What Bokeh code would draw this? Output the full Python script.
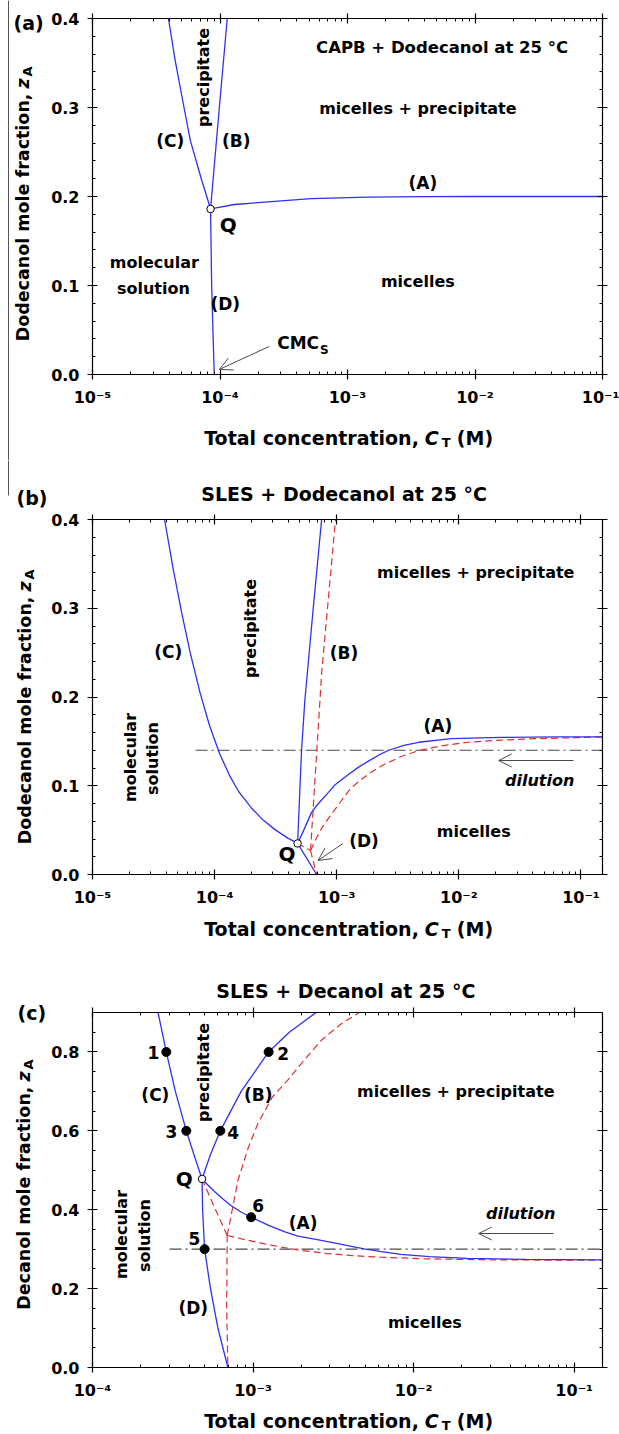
import math
from bokeh.plotting import figure
from bokeh.models import (LogAxis, LinearAxis, Label, Arrow, OpenHead,
                          SingleIntervalTicker, FixedTicker, CustomJSTickFormatter)
from bokeh.layouts import column, row
from bokeh.embed import file_html
from bokeh.resources import INLINE

# ------------------------------------------------------------------ data
# (a) CAPB + Dodecanol
a_Q_x = [8.43e-5]
a_Q_y = [0.186]
a_C_x = [3.94e-5, 4.45e-5, 5.22e-5, 5.85e-5, 7.13e-5, 7.87e-5, 8.43e-5]
a_C_y = [0.400, 0.353, 0.300, 0.263, 0.220, 0.200, 0.186]
a_B_x = [8.43e-5, 9.88e-5, 1.14e-4]
a_B_y = [0.186, 0.300, 0.400]
a_D_x = [8.43e-5, 8.60e-5, 9.01e-5]
a_D_y = [0.186, 0.100, 0.000]
a_A_x = [8.43e-5, 9.1e-5, 1.30e-4, 2.37e-4, 5.2e-4, 1.44e-3, 4.0e-3, 1.0e-2, 1.0e-1]
a_A_y = [0.186, 0.187, 0.191, 0.194, 0.1975, 0.1992, 0.1998, 0.200, 0.200]

# (b) SLES + Dodecanol
b_Q_x = [4.78e-4]
b_Q_y = [0.035]
b_C_x = [3.89e-5, 4.57e-5, 5.37e-5, 6.31e-5, 7.59e-5, 9.12e-5, 1.10e-4, 1.32e-4,
         1.58e-4, 2.00e-4, 2.51e-4, 3.16e-4, 3.98e-4, 4.78e-4]
b_C_y = [0.400, 0.345, 0.295, 0.250, 0.205, 0.167, 0.136, 0.112,
         0.093, 0.075, 0.061, 0.050, 0.041, 0.035]
b_B_x = [4.78e-4, 5.15e-4, 5.48e-4, 6.42e-4, 7.52e-4]
b_B_y = [0.035, 0.14, 0.196, 0.30, 0.40]
b_D_x = [4.78e-4, 6.84e-4]
b_D_y = [0.035, 0.0]
b_A_x = [4.78e-4, 5.37e-4, 6.22e-4, 7.08e-4, 8.24e-4, 9.59e-4, 1.20e-3, 1.51e-3, 1.83e-3,
         2.24e-3, 2.67e-3, 3.55e-3, 4.68e-3, 8.71e-3, 2.24e-2, 6.31e-2, 0.15]
b_A_y = [0.035, 0.050, 0.070, 0.080, 0.090, 0.1005, 0.111, 0.121, 0.128,
         0.135, 0.140, 0.1455, 0.149, 0.153, 0.1545, 0.155, 0.155]
b_rQ_x = [4.78e-4, 6.1e-4]
b_rQ_y = [0.035, 0.027]
b_rD_x = [6.1e-4, 6.84e-4]
b_rD_y = [0.027, 0.0]
b_rB_x = [6.1e-4, 7.52e-4, 9.77e-4]
b_rB_y = [0.027, 0.2265, 0.40]
b_rA_x = [6.10e-4, 6.76e-4, 7.52e-4, 8.71e-4, 1.0e-3, 1.15e-3, 1.30e-3, 1.58e-3, 2.0e-3,
          2.48e-3, 3.39e-3, 4.65e-3, 7.08e-3, 1.19e-2, 2.24e-2, 4.2e-2, 7.94e-2, 0.15]
b_rA_y = [0.027, 0.040, 0.052, 0.065, 0.076, 0.0875, 0.097, 0.107, 0.117,
          0.1245, 0.133, 0.1395, 0.1448, 0.149, 0.1515, 0.153, 0.154, 0.155]
b_dil_x = [6.98e-5, 0.15]
b_dil_y = [0.14, 0.14]

# (c) SLES + Decanol
c_Q_x = [4.81e-4]
c_Q_y = [0.478]
c_C_x = [2.56e-4, 2.88e-4, 3.28e-4, 3.84e-4, 4.28e-4, 4.81e-4]
c_C_y = [0.9, 0.8, 0.7, 0.6, 0.54, 0.478]
c_B_x = [4.81e-4, 5.43e-4, 6.25e-4, 8.43e-4, 1.25e-3, 1.68e-3, 2.47e-3]
c_B_y = [0.478, 0.54, 0.6, 0.7, 0.8, 0.85, 0.9]
c_D_x = [4.81e-4, 4.85e-4, 4.99e-4, 5.43e-4, 6.04e-4, 6.97e-4]
c_D_y = [0.478, 0.4, 0.3, 0.2, 0.1, 0.0]
c_A_x = [4.81e-4, 5.25e-4, 5.75e-4, 6.46e-4, 7.31e-4, 8.51e-4, 9.73e-4, 1.26e-3, 1.58e-3,
         1.90e-3, 2.51e-3, 3.55e-3, 4.92e-3, 6.31e-3, 8.32e-3, 1.26e-2, 2.16e-2, 5.01e-2, 0.15]
c_A_y = [0.478, 0.462, 0.446, 0.428, 0.41, 0.393, 0.381, 0.3597, 0.3437,
         0.333, 0.324, 0.312, 0.301, 0.294, 0.287, 0.281, 0.2765, 0.274, 0.273]
c_rQ_x = [4.81e-4, 5.75e-4, 6.9e-4]
c_rQ_y = [0.478, 0.406, 0.3347]
c_rD_x = [6.9e-4, 6.85e-4, 6.97e-4]
c_rD_y = [0.3347, 0.15, 0.0]
c_rB_x = [6.9e-4, 8.05e-4, 9.33e-4, 1.07e-3, 1.32e-3, 1.64e-3, 1.99e-3, 2.65e-3, 3.53e-3, 4.59e-3]
c_rB_y = [0.3347, 0.474, 0.557, 0.618, 0.686, 0.728, 0.77, 0.829, 0.871, 0.9]
c_rA_x = [6.9e-4, 8.91e-4, 1.18e-3, 1.51e-3, 1.90e-3, 2.82e-3, 4.17e-3, 6.25e-3, 1.2e-2, 3.48e-2, 0.15]
c_rA_y = [0.3347, 0.324, 0.3136, 0.305, 0.298, 0.2895, 0.2835, 0.2795, 0.2755, 0.2727, 0.272]
c_dil_x = [3.02e-4, 0.15]
c_dil_y = [0.30, 0.30]
c_pts_x = [2.88e-4, 1.25e-3, 3.84e-4, 6.25e-4, 4.99e-4, 9.73e-4]
c_pts_y = [0.8, 0.8, 0.6, 0.6, 0.3, 0.381]
c_pts_lab = ["1", "2", "3", "4", "5", "6"]

# ------------------------------------------------------------------ style
FONT = "DejaVu Sans"
BLUE = "#3030f4"
RED = "#e2302f"
GREY = "#4a4a4a"

SUP_JS = """
const m = {"-": "\u207b", "0": "\u2070", "1": "\u00b9", "2": "\u00b2", "3": "\u00b3",
           "4": "\u2074", "5": "\u2075", "6": "\u2076", "7": "\u2077", "8": "\u2078", "9": "\u2079"};
const e = Math.round(Math.log10(tick));
return "10" + String(e).split("").map(c => m[c]).join("");
"""

FRAME_X0, FRAME_X1 = 91.0, 602.0   # page x of the plotting frames
LEFT_W = 48                         # width of the left text column
MAIN_W = 619 - LEFT_W


def make_label(x, y, s, fs, align, angle, italic):
    return Label(x=x, y=y, text=s, text_font=FONT, text_font_size=f"{fs}px",
                 text_font_style="bold italic" if italic else "bold",
                 text_align=align, text_baseline="middle", angle=angle,
                 text_color="black")


class TextArea:
    """A blank figure used only to hold texts outside the plotting frames.
    If 'aligned', its frame shares the horizontal extent of the plot frames."""
    def __init__(self, ox, oy, w, h, aligned=False):
        self.ox, self.oy, self.w, self.h = ox, oy, w, h
        self.aligned = aligned
        if aligned:
            xr = (FRAME_X0, FRAME_X1)
            bl, br = int(FRAME_X0 - ox), int(ox + w - FRAME_X1)
        else:
            xr = (0, w)
            bl, br = 0, 0
        f = figure(width=w, height=h, x_range=xr, y_range=(0, h),
                   min_border_left=bl, min_border_right=br,
                   min_border_top=0, min_border_bottom=0,
                   toolbar_location=None, x_axis_location=None, y_axis_location=None,
                   output_backend="svg")
        f.grid.visible = False
        f.outline_line_color = None
        f.background_fill_color = "white"
        f.border_fill_color = "white"
        self.f = f

    def _x(self, px):
        return px if self.aligned else px - self.ox

    def text(self, px, py, s, fs, align="center", angle=0.0, italic=False):
        self.f.add_layout(make_label(self._x(px), self.h - (py - self.oy), s, fs,
                                     align, angle, italic))

    def vline(self, px, py0, py1):
        self.f.line([self._x(px), self._x(px)],
                    [self.h - (py0 - self.oy), self.h - (py1 - self.oy)],
                    line_color="#555555", line_width=1)


class Panel:
    def __init__(self, page_top, top, frame_h, xr, yr, ytick, yminor):
        bottom = 36
        self.p = figure(width=MAIN_W, height=top + frame_h + bottom, x_axis_type="log",
                        x_range=xr, y_range=yr, output_backend="svg",
                        toolbar_location=None, min_border_left=int(FRAME_X0 - LEFT_W),
                        min_border_right=int(619 - FRAME_X1), min_border_top=top,
                        min_border_bottom=bottom)
        p = self.p
        p.grid.visible = False
        p.outline_line_color = None
        p.background_fill_color = "white"
        p.border_fill_color = "white"
        self.fx0, self.fx1 = FRAME_X0, FRAME_X1
        self.ft = page_top + top
        self.fb = self.ft + frame_h
        self.xlo, self.xhi = xr
        self.ylo, self.yhi = yr
        lo = math.floor(math.log10(self.xlo))
        xt = FixedTicker(ticks=[10.0 ** e for e in range(lo, 0)],
                         minor_ticks=[m * 10.0 ** e for e in range(lo, 0) for m in range(2, 10)])
        yt = SingleIntervalTicker(interval=ytick, num_minor_ticks=yminor)
        bottom_axis = p.below[0]
        left_axis = p.left[0]
        bottom_axis.ticker = xt
        left_axis.ticker = yt
        p.add_layout(LogAxis(ticker=xt), "above")
        p.add_layout(LinearAxis(ticker=yt), "right")
        for ax in p.axis:
            ax.formatter = CustomJSTickFormatter(code="return ''")
            ax.major_label_text_font_size = "0px"
            ax.major_label_standoff = 0
            ax.axis_label = None
            ax.axis_line_color = "black"
            ax.axis_line_width = 1.2
            ax.major_tick_line_color = "black"
            ax.major_tick_line_width = 1.2
            ax.minor_tick_line_color = "black"
            ax.minor_tick_line_width = 1.0
            ax.major_tick_in = 5
            ax.major_tick_out = 5
            ax.minor_tick_in = 3
            ax.minor_tick_out = 0
        for ax, code, standoff in ((left_axis, "return tick.toFixed(1)", 8),
                                   (bottom_axis, SUP_JS, 8)):
            ax.formatter = CustomJSTickFormatter(code=code)
            ax.major_label_text_font = FONT
            ax.major_label_text_font_size = "16px"
            ax.major_label_text_font_style = "bold"
            ax.major_label_text_color = "black"
            ax.major_label_standoff = standoff

    def X(self, px):
        l0, l1 = math.log10(self.xlo), math.log10(self.xhi)
        return 10 ** (l0 + (px - self.fx0) / (self.fx1 - self.fx0) * (l1 - l0))

    def Y(self, py):
        return self.ylo + (self.fb - py) / (self.fb - self.ft) * (self.yhi - self.ylo)

    def text(self, px, py, s, fs, align="center", angle=0.0, italic=False):
        self.p.add_layout(make_label(self.X(px), self.Y(py), s, fs, align, angle, italic))

    def arrow(self, tail, tip):
        self.p.add_layout(Arrow(end=OpenHead(size=13, line_color=GREY, line_width=1),
                                x_start=self.X(tail[0]), y_start=self.Y(tail[1]),
                                x_end=self.X(tip[0]), y_end=self.Y(tip[1]),
                                line_color=GREY, line_width=1))


def xtitle(area, py, fs=19):
    # main part ends at the comma; the symbol and unit follow it
    area.text(418, py, "Total concentration,", fs, align="right")
    area.text(424, py, "C", fs, align="left", italic=True)
    area.text(441, py + 5, "T", 13, align="left")
    area.text(456, py, "(M)", fs, align="left")


def ytitle(area, px, anchor, main, fs=17.5):
    # rotated text reading upwards; "anchor" is where the symbol z begins
    area.text(px, anchor + 5, main, fs, align="right", angle=math.pi / 2)
    area.text(px, anchor, "z", fs, align="left", angle=math.pi / 2, italic=True)
    area.text(px + 5, anchor - 12, "A", 13, align="left", angle=math.pi / 2)


def blue(p, x, y):
    p.line(x, y, line_color=BLUE, line_width=1.3)


def red(p, x, y):
    p.line(x, y, line_color=RED, line_width=1.2, line_dash="7 4")


def dashdot(p, x, y):
    p.line(x, y, line_color=GREY, line_width=1.2, line_dash="12 4 2 4")


def qpoint(p, x, y):
    p.scatter(x, y, size=7.5, fill_color="white", line_color="black", line_width=1)


ROT = math.pi / 2

# ------------------------------------------------------------------ panel (a)  page y 0..460
A = Panel(0, 18, 356, (1e-5, 0.1), (0.0, 0.4), 0.1, 5)          # main: 0..410
pa = A.p
blue(pa, a_C_x, a_C_y)
blue(pa, a_B_x, a_B_y)
blue(pa, a_D_x, a_D_y)
blue(pa, a_A_x, a_A_y)
qpoint(pa, a_Q_x, a_Q_y)
A.text(315, 47, "CAPB + Dodecanol at 25 \u00b0C", 16.5, align="left")
A.text(417, 108, "micelles + precipitate", 16)
A.text(422, 182, "(A)", 17)
A.text(417, 281, "micelles", 16)
A.text(153, 262, "molecular", 16)
A.text(152, 288, "solution", 16)
A.text(202, 77, "precipitate", 16, angle=ROT)
A.text(169, 140, "(C)", 17)
A.text(235, 140, "(B)", 17)
A.text(227, 224, "Q", 20)
A.text(224, 303, "(D)", 17)
A.text(318, 342, "CMC", 17, align="right")
A.text(319, 349, "S", 12, align="left")
A.arrow((268, 346), (218, 369))

La = TextArea(0, 0, LEFT_W, 460)
La.text(13, 22, "(a)", 19, align="left")
ytitle(La, 22, 88, "Dodecanol mole fraction,")
La.vline(8, 0, 460)
Ba = TextArea(LEFT_W, 410, MAIN_W, 50, aligned=True)
xtitle(Ba, 437)

# ------------------------------------------------------------------ panel (b)  page y 460..954
Tb = TextArea(LEFT_W, 460, MAIN_W, 49, aligned=True)
Tb.text(200, 493, "SLES + Dodecanol at 25 \u00b0C", 19, align="left")
B = Panel(509, 10, 355, (1e-5, 0.15), (0.0, 0.4), 0.1, 5)       # main: 509..910
pb = B.p
dashdot(pb, b_dil_x, b_dil_y)
red(pb, b_rQ_x, b_rQ_y)
red(pb, b_rD_x, b_rD_y)
red(pb, b_rB_x, b_rB_y)
red(pb, b_rA_x, b_rA_y)
blue(pb, b_C_x, b_C_y)
blue(pb, b_B_x, b_B_y)
blue(pb, b_D_x, b_D_y)
blue(pb, b_A_x, b_A_y)
qpoint(pb, b_Q_x, b_Q_y)
B.text(249, 628, "precipitate", 16, angle=ROT)
B.text(167, 651, "(C)", 17)
B.text(129, 757, "molecular", 16, angle=ROT)
B.text(151, 758, "solution", 16, angle=ROT)
B.text(286, 853, "Q", 20)
B.text(343, 652, "(B)", 17)
B.text(475, 572, "micelles + precipitate", 16)
B.text(437, 725, "(A)", 17)
B.text(539, 780, "dilution", 16, italic=True)
B.text(473, 831, "micelles", 16)
B.text(363, 840, "(D)", 17)
B.arrow((573, 760), (498, 760))
B.arrow((342, 843), (317, 860))
Lb = TextArea(0, 460, LEFT_W, 494)
Lb.text(16, 497, "(b)", 19, align="left")
ytitle(Lb, 24, 591, "Dodecanol mole fraction,")
Lb.vline(8, 460, 495)
Bb = TextArea(LEFT_W, 910, MAIN_W, 44, aligned=True)
xtitle(Bb, 928)

# ------------------------------------------------------------------ panel (c)  page y 954..1434
Tc = TextArea(LEFT_W, 954, MAIN_W, 48, aligned=True)
Tc.text(215, 990, "SLES + Decanol at 25 \u00b0C", 19, align="left")
Cp = Panel(1002, 10, 355, (1e-4, 0.15), (0.0, 0.9), 0.2, 4)     # main: 1002..1403
pc = Cp.p
dashdot(pc, c_dil_x, c_dil_y)
red(pc, c_rQ_x, c_rQ_y)
red(pc, c_rD_x, c_rD_y)
red(pc, c_rB_x, c_rB_y)
red(pc, c_rA_x, c_rA_y)
blue(pc, c_C_x, c_C_y)
blue(pc, c_B_x, c_B_y)
blue(pc, c_D_x, c_D_y)
blue(pc, c_A_x, c_A_y)
pc.scatter(c_pts_x, c_pts_y, size=9, color="black")
qpoint(pc, c_Q_x, c_Q_y)
num_pos = [(152, 1052), (282, 1053), (170, 1131), (232, 1132), (193, 1238), (257, 1205)]
for s, (x, y) in zip(c_pts_lab, num_pos):
    Cp.text(x, y, s, 17)
Cp.text(154, 1094, "(C)", 17)
Cp.text(257, 1094, "(B)", 17)
Cp.text(202, 1072, "precipitate", 16, angle=ROT)
Cp.text(183, 1178, "Q", 20)
Cp.text(120, 1234, "molecular", 16, angle=ROT)
Cp.text(143.5, 1235, "solution", 16, angle=ROT)
Cp.text(192, 1307, "(D)", 17)
Cp.text(302, 1222, "(A)", 17)
Cp.text(455, 1091, "micelles + precipitate", 16)
Cp.text(520, 1213, "dilution", 16, italic=True)
Cp.text(424, 1322, "micelles", 16)
Cp.arrow((553, 1233), (478, 1233))
Lc = TextArea(0, 954, LEFT_W, 480)
Lc.text(17, 1012, "(c)", 19, align="left")
ytitle(Lc, 23, 1081, "Decanol mole fraction,")
Bc = TextArea(LEFT_W, 1403, MAIN_W, 31, aligned=True)
xtitle(Bc, 1420)

layout = column(
    row(La.f, column(pa, Ba.f)),
    row(Lb.f, column(Tb.f, pb, Bb.f)),
    row(Lc.f, column(Tc.f, pc, Bc.f)),
)
open("out.html", "w").write(file_html(layout, INLINE))
